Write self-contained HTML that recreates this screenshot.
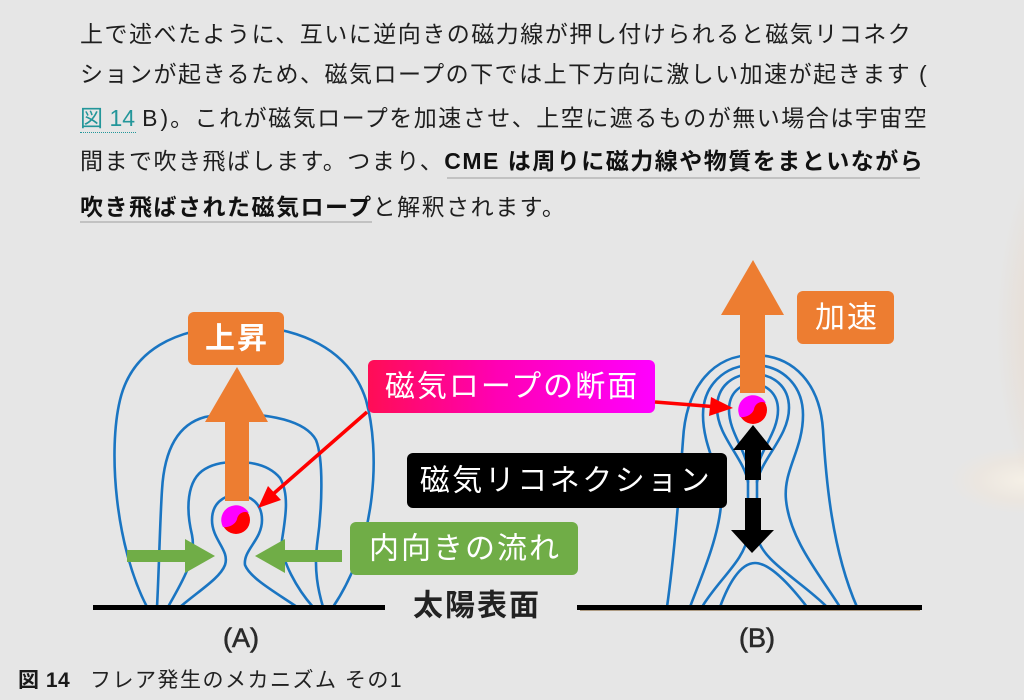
<!DOCTYPE html>
<html><head><meta charset="utf-8">
<style>
html,body{margin:0;padding:0;}
body{width:1024px;height:700px;position:relative;overflow:hidden;background:#e6e6e6;font-family:"Liberation Sans","Noto Sans CJK JP",sans-serif;color:#222;}
.ln{position:absolute;left:80px;height:30px;line-height:30px;font-size:23px;letter-spacing:1.5px;white-space:nowrap;color:#1e1e1e;}
.lk{color:#23969a;}
b{font-weight:bold;color:#111;}
.ul{position:absolute;height:2px;background:#c2c2c2;}
.glow1{position:absolute;left:900px;top:60px;width:240px;height:540px;background:radial-gradient(ellipse 50% 50% at 80% 50%, rgba(240,170,110,0.32), rgba(240,175,115,0.13) 55%, rgba(240,175,115,0) 80%);}
.glow2{position:absolute;left:880px;top:440px;width:200px;height:90px;background:radial-gradient(ellipse 50% 50% at 72% 45%, rgba(255,246,230,0.6), rgba(255,230,200,0.22) 45%, rgba(255,230,200,0) 75%);}
svg{position:absolute;left:0;top:0;}
</style></head>
<body>
<div class="glow1"></div>
<div class="glow2"></div>

<div class="ln" style="top:19px">上で述べたように、互いに逆向きの磁力線が押し付けられると磁気リコネク</div>
<div class="ln" style="top:59px">ションが起きるため、磁気ロープの下では上下方向に激しい加速が起きます (</div>
<div class="ln" style="top:103px"><span class="lk">図</span><span class="lk" style="letter-spacing:0;margin-left:5px">14</span><span style="letter-spacing:0;margin-left:7px">B</span><span style="letter-spacing:0;margin-left:3px;margin-right:2px">)</span>。これが磁気ロープを加速させ、上空に遮るものが無い場合は宇宙空</div>
<div style="position:absolute;left:80px;top:132px;width:56px;border-top:1px dotted #23969a;"></div>
<div class="ln" style="top:146px">間まで吹き飛ばします。つまり、<b>CME は周りに磁力線や物質をまといながら</b></div>
<div class="ul" style="left:447px;top:177px;width:473px;"></div>
<div class="ln" style="top:192px"><b>吹き飛ばされた磁気ロープ</b>と解釈されます。</div>
<div class="ul" style="left:80px;top:221px;width:292px;"></div>

<svg width="1024" height="700" viewBox="0 0 1024 700" xmlns="http://www.w3.org/2000/svg">
<defs>
<linearGradient id="mg" x1="0" y1="0" x2="1" y2="0">
<stop offset="0" stop-color="#ff0d55"/>
<stop offset="0.45" stop-color="#ff00b4"/>
<stop offset="1" stop-color="#ff00ff"/>
</linearGradient>
</defs>

<!-- (A) field lines -->
<g fill="none" stroke="#1a75c2" stroke-width="2.6" stroke-linecap="round" stroke-linejoin="round">
<path d="M147,607 C 115,545 108,450 120,400 C 132,350 175,328 236,326 C 300,325 350,350 366,400 C 380,450 378,540 333,607"/>
<path d="M157,607 C 159,570 160,520 162,490 C 164,455 175,425 205,417 C 220,414 230,414 236,414 C 268,414 305,420 316,440 C 324,460 322,510 317,545 C 314,570 318,590 323,607"/>
<path d="M168,607 C 180,585 197,560 192,535 C 186,510 186,480 205,469 C 215,463 226,462 237,462 C 255,462 270,466 280,478 C 290,495 285,520 282,540 C 280,560 298,590 313,607"/>
<path d="M180,607 C 200,590 220,578 225,565 C 230,550 212,540 212,520 C 212,503 224,495 237,495 C 250,495 262,503 262,520 C 262,540 243,550 245,565 C 250,578 275,592 297,607"/>
</g>

<!-- (B) field lines -->
<g fill="none" stroke="#1a75c2" stroke-width="2.6" stroke-linecap="round" stroke-linejoin="round">
<path d="M667,607 C 675,550 680,480 683,440 C 686,385 715,355 753,355 C 795,355 820,385 823,430 C 826,480 832,550 857,607"/>
<path d="M690,607 C 700,580 718,540 721,505 C 724,475 703,450 703,415 C 703,385 725,365 753,365 C 782,365 803,385 803,415 C 803,450 783,470 786,500 C 790,540 820,575 840,607"/>
<path d="M748,482 C 744,458 717,436 717,408 C 717,386 733,374 753,374 C 773,374 789,386 789,408 C 789,436 762,458 757,482"/>
<path d="M702,607 C 718,580 745,560 748,535 L748,470 C 746,450 729,432 729,410 C 729,393 740,384 753,384 C 767,384 778,394 778,410 C 778,432 760,450 757,470 L757,535 C 760,560 800,580 827,607"/>
<path d="M720,607 C 728,585 740,563 755,563 C 770,563 790,585 807,607"/>
</g>

<!-- ground lines -->
<line x1="93" y1="607.5" x2="385" y2="607.5" stroke="#000" stroke-width="5"/>
<line x1="577" y1="607.5" x2="922" y2="607.5" stroke="#000" stroke-width="5"/>
<line x1="580" y1="610.5" x2="920" y2="610.5" stroke="#8a6a40" stroke-width="1" opacity="0.6"/>

<!-- (A) orange arrow -->
<rect x="225" y="420" width="24" height="81" fill="#ed7d31"/>
<polygon points="237,367 268,422 205,422" fill="#ed7d31"/>
<!-- (A) rope -->
<circle cx="236" cy="520" r="14" fill="#ff0000"/>
<path d="M223,527 A14,14 0 0 1 249,513 C 243,510 238,514 237,519 C 236,524 229,528 223,527 Z" fill="#ff00ff"/>
<!-- green arrows -->
<rect x="127" y="550" width="61" height="12" fill="#70ad47"/>
<polygon points="185,539 215,556 185,573" fill="#70ad47"/>
<rect x="282" y="550" width="60" height="12" fill="#70ad47"/>
<polygon points="285,539 255,556 285,573" fill="#70ad47"/>

<!-- (B) orange arrow -->
<rect x="740" y="313" width="25" height="80" fill="#ed7d31"/>
<polygon points="753,260 784,315 721,315" fill="#ed7d31"/>
<!-- (B) rope -->
<circle cx="753" cy="410" r="14" fill="#ff0000"/>
<path d="M740,417 A14,14 0 0 1 766,403 C 760,400 755,404 754,409 C 753,414 746,418 740,417 Z" fill="#ff00ff"/>
<!-- black double arrow -->
<polygon points="753,425 773,450 733,450" fill="#000"/>
<rect x="745" y="449" width="16" height="31" fill="#000"/>
<rect x="745" y="498" width="16" height="33" fill="#000"/>
<polygon points="731,530 774,530 752,553" fill="#000"/>

<!-- boxes -->
<rect x="188" y="312" width="96" height="53" rx="6" fill="#ed7d31"/>
<text x="237" y="339" font-size="30" font-weight="bold" fill="#fff" text-anchor="middle" dominant-baseline="central" letter-spacing="2" style="font-family:'Liberation Sans','Noto Sans CJK JP',sans-serif">上昇</text>

<rect x="797" y="291" width="97" height="53" rx="6" fill="#ed7d31"/>
<text x="847" y="318" font-size="30" fill="#fff" text-anchor="middle" dominant-baseline="central" letter-spacing="2" style="font-family:'Liberation Sans','Noto Sans CJK JP',sans-serif">加速</text>

<rect x="368" y="360" width="287" height="53" rx="6" fill="url(#mg)"/>
<text x="512" y="387" font-size="30" fill="#fff" text-anchor="middle" dominant-baseline="central" letter-spacing="2" style="font-family:'Liberation Sans','Noto Sans CJK JP',sans-serif">磁気ロープの断面</text>

<rect x="407" y="453" width="320" height="55" rx="6" fill="#000"/>
<text x="566" y="481" font-size="30" fill="#fff" text-anchor="middle" dominant-baseline="central" letter-spacing="2.5" style="font-family:'Liberation Sans','Noto Sans CJK JP',sans-serif">磁気リコネクション</text>

<rect x="350" y="522" width="228" height="53" rx="6" fill="#70ad47"/>
<text x="465" y="549" font-size="30" fill="#fff" text-anchor="middle" dominant-baseline="central" letter-spacing="2" style="font-family:'Liberation Sans','Noto Sans CJK JP',sans-serif">内向きの流れ</text>

<!-- red arrows -->
<line x1="367" y1="412" x2="272" y2="495" stroke="#ff0000" stroke-width="3.5"/>
<polygon points="258,508 281,500 268,486" fill="#ff0000"/>
<line x1="655" y1="402" x2="712" y2="406.5" stroke="#ff0000" stroke-width="3.5"/>
<polygon points="733,408 709,416 711,397" fill="#ff0000"/>

<!-- labels -->
<text x="477" y="606" font-size="30" font-weight="bold" fill="#222" text-anchor="middle" dominant-baseline="central" letter-spacing="2" style="font-family:'Liberation Sans','Noto Sans CJK JP',sans-serif">太陽表面</text>
<text x="241" y="647" font-size="27" fill="#2a2a2a" stroke="#2a2a2a" stroke-width="0.6" text-anchor="middle" style="font-family:'Liberation Sans','Noto Sans CJK JP',sans-serif">(A)</text>
<text x="757" y="647" font-size="27" fill="#2a2a2a" stroke="#2a2a2a" stroke-width="0.6" text-anchor="middle" style="font-family:'Liberation Sans','Noto Sans CJK JP',sans-serif">(B)</text>

<!-- caption -->
<text x="18" y="687" font-size="21" font-weight="bold" fill="#1a1a1a" letter-spacing="0.5" style="font-family:'Liberation Sans','Noto Sans CJK JP',sans-serif">図 14</text>
<text x="90" y="687" font-size="21" fill="#222" letter-spacing="1.5" style="font-family:'Liberation Sans','Noto Sans CJK JP',sans-serif">フレア発生のメカニズム その1</text>
</svg>
</body></html>
